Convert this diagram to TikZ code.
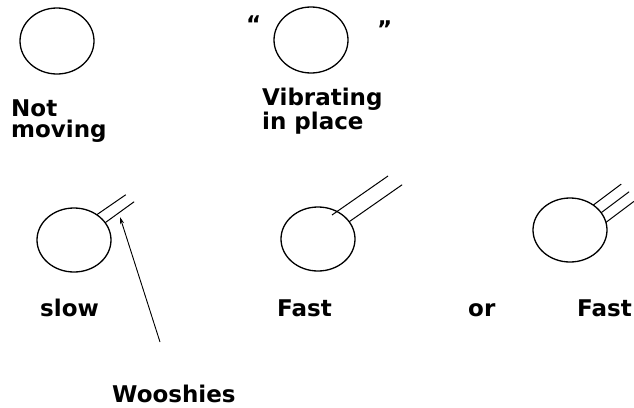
\documentclass[tikz,border=0pt]{standalone}
\usepackage{fontspec}
\setmainfont{DejaVu Sans}
\usepackage{tikz}
\usetikzlibrary{shapes.geometric, arrows.meta, positioning}
\newcommand\LblFont{\bfseries\fontsize{23}{21}\selectfont}

\begin{document}
\begin{tikzpicture}[x=1pt, y=-1pt,
    ball/.style={ellipse, draw, line width=1.3pt, minimum width=74pt, minimum height=66pt, inner sep=0pt, outer sep=0pt},
    lbl/.style={font=\LblFont, align=left, inner sep=0pt, anchor=base west},
    woosh/.style={line width=1pt}]
                \useasboundingbox (0,0) rectangle (634,407);
                % top row: resting and vibrating balls
                \node [ball] (rest) at (57,41) {};
                \node [lbl] (restlbl) at (11,137) {Not\\moving};
                \node [ball] (vib) at (311,40) {};
                \node [lbl] (vibL) at (246,32) {“};
                \node [lbl] (vibR) at (377,37) {”};
                \node [lbl] (viblbl) at (262,129) {Vibrating\\in place};

                % bottom row: moving balls with wooshies
                \node [ball, minimum height=64pt] (slow) at (74,240) {};
                \draw [woosh] (slow.48) -- ++(29,-20);
                \draw [woosh] (slow.29) -- ++(29,-21);
                \node [lbl] (slowlbl) at (40,316) {slow};

                \node [ball, minimum height=64pt] (fastA) at (318,239) {};
                \draw [woosh] (332,215) -- ++(56,-39);
                \draw [woosh] (fastA.29) -- ++(53,-37);
                \node [lbl] (fastAlbl) at (277,316) {Fast};

                \node [lbl] (orlbl) at (468,316) {or};

                \node [ball, minimum height=64pt] (fastB) at (570,230) {};
                \foreach \a in {47,29,12}{
                  % three short parallel strokes
                  \draw [woosh] (fastB.\a) -- ++(28,-21);
                }
                \node [lbl] (fastBlbl) at (577,316) {Fast};

                % label with pointer to the strokes
                \node [lbl] (wooshlbl) at (112,402) {Wooshies};
                \coordinate (tail) at (160,342);
                \coordinate (tip) at (120,217);
                \draw [-{Stealth[length=7pt, width=4pt]}, line width=0.9pt] (tail) -- (tip);
            \end{tikzpicture}
\end{document}
